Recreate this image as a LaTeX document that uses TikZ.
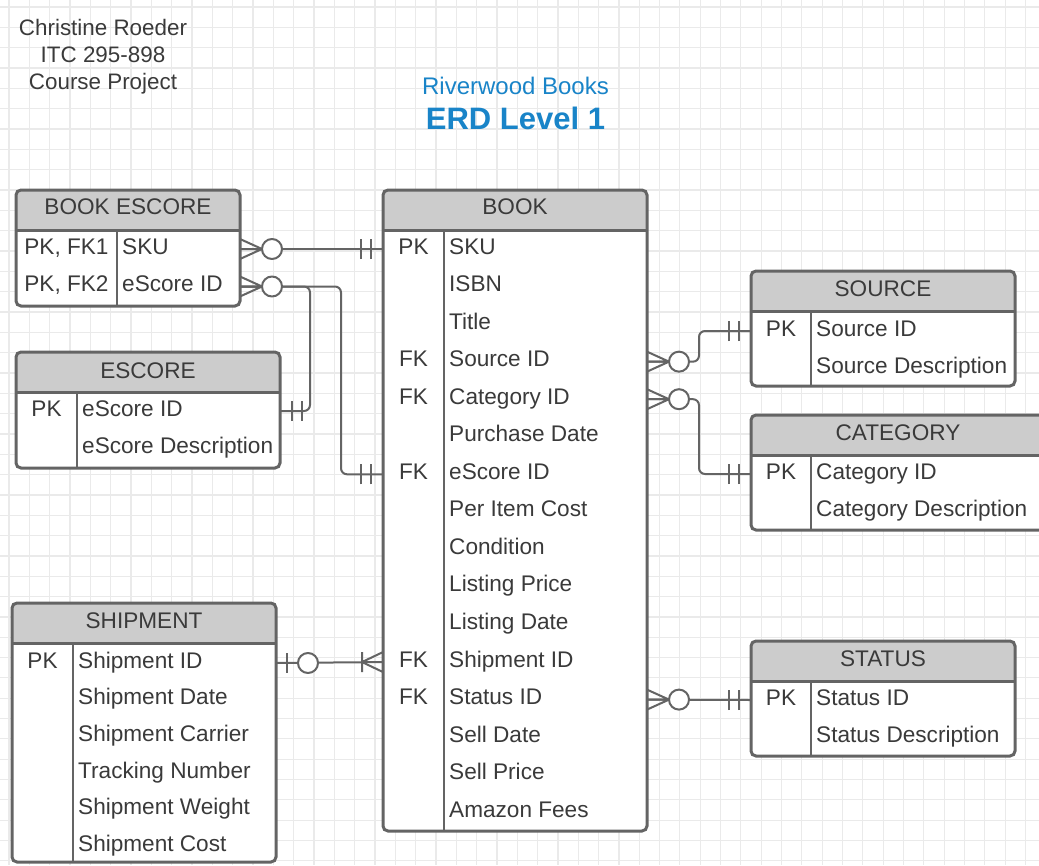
\documentclass[tikz,border=0pt]{standalone}
\usepackage{fontspec}
\setmainfont{Liberation Sans}
\usetikzlibrary{calc}
\definecolor{ink}{RGB}{58,58,58}
\definecolor{edge}{RGB}{100,100,100}
\definecolor{hdr}{RGB}{204,204,204}
\definecolor{gridc}{RGB}{234,234,234}
\definecolor{riverblue}{RGB}{25,132,200}
\tikzset{
  ent/.style = {draw=edge, line width=3pt, rounded corners=5pt, fill=white, inner sep=0pt, outer sep=0pt,
    path picture={\fill[hdr] (path picture bounding box.north west) rectangle ([yshift=-40.5pt]path picture bounding box.north east);}},
  sep/.style = {draw=edge, line width=2.6pt},
  rel/.style = {draw=edge, line width=2pt, line join=round},
  row/.style = {font=\fontsize{22.6}{26}\selectfont, text=ink, inner sep=0pt, text height=10pt, text depth=0pt, anchor=west},
  key/.style = {row, anchor=center},
  zeromany/.pic = {\draw[rel] (0,-10) -- (22,0) -- (0,10) (0,0) -- (22,0); \draw[rel, fill=white] (32,0) circle (10pt);},
  zeroone/.pic = {\draw[rel] (11,-10) -- (11,10); \draw[rel, fill=white] (32,0) circle (10pt);},
  justone/.pic = {\draw[rel] (12,-10) -- (12,10) (22,-10) -- (22,10);},
  onemany/.pic = {\draw[rel] (0,-10) -- (21,0) -- (0,10) (21,-10) -- (21,10);}
}
\begin{document}
\begin{tikzpicture}[x=1pt, y=-1pt]
\useasboundingbox (0,0) rectangle (1039,865);
\clip (0,0) rectangle (1039,865);
\fill[white] (0,0) rectangle (1039,865);
% grid
\foreach \i in {0,...,51} \draw[gridc, line width=1.2pt] ({9+20.33*\i},0) -- ({9+20.33*\i},865);
\foreach \j in {0,...,42} \draw[gridc, line width=1.2pt] (0,{7+20.33*\j}) -- (1039,{7+20.33*\j});

\node[font=\fontsize{22.4}{27}\selectfont, text=ink, align=center] (author) at (103,57) {Christine Roeder\\ITC 295-898\\Course Project};
\node[font=\fontsize{24}{28}\selectfont, text=riverblue, anchor=base] (proj) at (515.5,94.6) {Riverwood Books};
\node[font=\fontsize{31}{36}\selectfont\bfseries, text=riverblue, anchor=base] (lvl) at (515.5,129) {ERD Level 1};

% entities
\node[ent, minimum width=224pt, minimum height=116pt] (bescore) at (128,248) {};
\node[ent, minimum width=264pt, minimum height=116pt] (escore) at (148,410) {};
\node[ent, minimum width=264pt, minimum height=641pt] (book) at (515,510.5) {};
\node[ent, minimum width=264pt, minimum height=115pt] (source) at (883,328.5) {};
\node[ent, minimum width=294pt, minimum height=115pt] (category) at (898,472.5) {};
\node[ent, minimum width=264pt, minimum height=259pt] (shipment) at (144,732.5) {};
\node[ent, minimum width=264pt, minimum height=115pt] (status) at (883,698.5) {};
\foreach \e/\d in {bescore/101, escore/61, book/61, source/60, category/60, shipment/61, status/60} {
  \draw[sep] ([yshift=-40.5pt]\e.north west) -- ([yshift=-40.5pt]\e.north east);
  \draw[sep] ([xshift=\d pt, yshift=-40.5pt]\e.north west) -- ([xshift=\d pt]\e.south west);
}

% headers
\node[key] (hbe) at ([yshift=-19pt]bescore.north) {BOOK ESCORE};
\node[key] (hes) at ([yshift=-21pt]escore.north) {ESCORE};
\node[key] (hbk) at ([yshift=-19pt]book.north) {BOOK};
\node[key] (hso) at ([yshift=-20pt]source.north) {SOURCE};
\node[key] (hca) at ([yshift=-20pt]category.north) {CATEGORY};
\node[key] (hsh) at ([yshift=-20pt]shipment.north) {SHIPMENT};
\node[key] (hst) at ([yshift=-20pt]status.north) {STATUS};

% BOOK ESCORE
\node[key] (bek1) at (66.5,249) {PK, FK1};
\node[key] (bek2) at (66.5,286.5) {PK, FK2};
\node[row] (be1) at (122,249) {SKU};
\node[row] (be2) at (122,286.5) {eScore ID};
% ESCORE
\node[key] (esk1) at (46.5,411) {PK};
\node[row] (es1) at (82,411) {eScore ID};
\node[row] (es2) at (82,448.3) {eScore Description};
% BOOK
\foreach \txt [count=\k] in {SKU, ISBN, Title, Source ID, Category ID, Purchase Date, eScore ID, Per Item Cost, Condition, Listing Price, Listing Date, Shipment ID, Status ID, Sell Date, Sell Price, Amazon Fees}
  \node[row] (bk\k) at (449,{249+37.55*(\k-1)}) {\txt};
\foreach \k/\kt in {1/PK, 4/FK, 5/FK, 7/FK, 12/FK, 13/FK}
  \node[key] (bkk\k) at (413.5,{249+37.55*(\k-1)}) {\kt};
% SOURCE, CATEGORY, STATUS
\node[key] (sok1) at (781,331) {PK};
\node[row] (so1) at (816,331) {Source ID};
\node[row] (so2) at (816,368.3) {Source Description};
\node[key] (cak1) at (781,474) {PK};
\node[row] (ca1) at (816,474) {Category ID};
\node[row] (ca2) at (816,511.5) {Category Description};
\node[key] (stk1) at (781,700) {PK};
\node[row] (st1) at (816,700) {Status ID};
\node[row] (st2) at (816,737.5) {Status Description};
% SHIPMENT
\node[key] (shk1) at (42.5,663) {PK};
\foreach \txt [count=\k] in {Shipment ID, Shipment Date, Shipment Carrier, Tracking Number, Shipment Weight, Shipment Cost}
  \node[row] (sh\k) at (78,{663+36.74*(\k-1)}) {\txt};

% relationships
\draw[rel] (bescore.east |- be1) -- (book.west |- bk1);
\draw[rel, rounded corners=6pt] (bescore.east |- be2) -| ($(escore.east |- es1)+(30,0)$) -- (escore.east |- es1);
\draw[rel, rounded corners=6pt] (bescore.east |- be2) -| ($(book.west |- bk7)+(-42,0)$) -- (book.west |- bk7);
\draw[rel, rounded corners=6pt] (book.east |- bk4) -- ($(book.east |- bk4)+(52,0)$) |- (source.west |- so1);
\draw[rel, rounded corners=6pt] (book.east |- bk5) -- ($(book.east |- bk5)+(52,0)$) |- (category.west |- ca1);
\draw[rel] (shipment.east |- sh1) -- (book.west |- bk12);
\draw[rel] (book.east |- bk13) -- (status.west |- st1);

\pic at (bescore.east |- be1) {zeromany};
\pic at (bescore.east |- be2) {zeromany};
\pic[rotate=180] at (book.west |- bk1) {justone};
\pic at (escore.east |- es1) {justone};
\pic[rotate=180] at (book.west |- bk7) {justone};
\pic at (book.east |- bk4) {zeromany};
\pic at (book.east |- bk5) {zeromany};
\pic at (book.east |- bk13) {zeromany};
\pic[rotate=180] at (source.west |- so1) {justone};
\pic[rotate=180] at (category.west |- ca1) {justone};
\pic[rotate=180] at (status.west |- st1) {justone};
\pic at (shipment.east |- sh1) {zeroone};
\pic[rotate=180] at (book.west |- bk12) {onemany};
\end{tikzpicture}
\end{document}
